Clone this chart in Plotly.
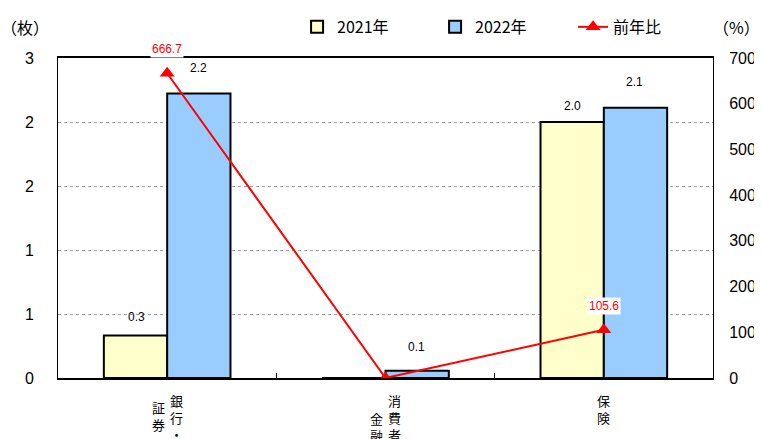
import plotly.graph_objects as go

categories = ["銀行・証券", "消費者金融", "保険"]
# vertical label columns (right column first, then left column)
category_columns = [["銀行・", "証券"], ["消費者", "金融"], ["保険"]]
values_2021 = [0.333, 0.0, 2.0]
values_2022 = [2.222, 0.056, 2.111]
ratio = [666.7, 0.0, 105.6]
left_tickvals = [0, 0.5, 1.0, 1.5, 2.0, 2.5]
left_ticktext = ["0", "1", "1", "2", "2", "3"]
right_tickvals = [0, 100, 200, 300, 400, 500, 600, 700]

NUM_FONT = "Liberation Sans, Arial, Noto Sans CJK JP"
JP_FONT = "Noto Sans CJK JP, Liberation Sans"

fig = go.Figure()
fig.add_trace(go.Bar(
    x=categories, y=values_2021, name="2021年",
    marker=dict(color="#FFFFCC", line=dict(color="black", width=2)),
))
fig.add_trace(go.Bar(
    x=categories, y=values_2022, name="2022年",
    marker=dict(color="#99CCFF", line=dict(color="black", width=2)),
))
fig.add_trace(go.Scatter(
    x=categories, y=ratio, name="前年比", yaxis="y2", mode="lines+markers",
    line=dict(color="#FF0000", width=2),
    marker=dict(symbol="triangle-up", size=13, color="#FF0000"),
))

annotations = []
# bar value labels
for ti, vals in enumerate([values_2021, values_2022]):
    shifts = [9, 0, 7] if ti == 0 else [17, 15, 17]
    for i, v in enumerate(vals):
        if v <= 0:
            continue
        annotations.append(dict(
            x=categories[i], y=v, xref="x", yref="y", text=f"{v:.1f}",
            showarrow=False, yanchor="bottom", xshift=(-31 if ti == 0 else 31),
            yshift=shifts[i], font=dict(size=12, color="black", family=NUM_FONT),
        ))
# ratio labels
for i, r in enumerate(ratio):
    if r <= 0:
        continue
    annotations.append(dict(
        x=categories[i], y=r, xref="x", yref="y2", text=f"{r:.1f}",
        showarrow=False, yanchor="bottom", yshift=15,
        bgcolor="white", font=dict(size=12, color="#FF0000", family=NUM_FONT),
    ))
# vertical category labels (one character per annotation, stacked)
for i, cols in enumerate(category_columns):
    n = len(cols)
    for j, col in enumerate(cols):
        xs = 0 if n == 1 else (9 if j == 0 else -9)
        start = -22 if j == 0 else (-29 if i == 0 else -40)
        for k, ch in enumerate(col):
            annotations.append(dict(
                x=categories[i], y=0, xref="x", yref="paper", text=ch,
                showarrow=False, yanchor="middle", xshift=xs, yshift=start - 17 * k,
                font=dict(size=13, color="black", family=JP_FONT),
            ))
annotations.append(dict(x=0, y=1, xref="paper", yref="paper", xanchor="left", yanchor="middle",
                        xshift=-59, yshift=31, text="（枚）", showarrow=False,
                        font=dict(size=16, color="black", family=JP_FONT)))
annotations.append(dict(x=1, y=1, xref="paper", yref="paper", xanchor="right", yanchor="middle",
                        xshift=49, yshift=31, text="（%）", showarrow=False,
                        font=dict(size=16, color="black", family=JP_FONT)))

# the page places the figure 8px from the top-left corner of the window
fig.update_layout(
    width=754, height=431,
    margin=dict(l=50, r=49, t=50, b=61, autoexpand=False),
    paper_bgcolor="white", plot_bgcolor="white",
    barmode="group", bargap=0.42, bargroupgap=0,
    font=dict(family=NUM_FONT, size=16, color="black"),
    showlegend=True,
    legend=dict(orientation="h", x=0.365, y=1.097, xanchor="left", yanchor="middle",
                font=dict(size=16, family=JP_FONT), bgcolor="rgba(0,0,0,0)",
                entrywidth=93, entrywidthmode="pixels", traceorder="normal"),
    xaxis=dict(type="category", showticklabels=False, ticks="inside", ticklen=5,
               tickson="boundaries", tickcolor="black", showline=True, linecolor="black",
               linewidth=1.5, mirror=True, showgrid=False, range=[-0.5, 2.5],
               automargin=False),
    yaxis=dict(range=[0, 2.5], tickvals=left_tickvals, ticktext=left_ticktext,
               showline=True, linecolor="black", linewidth=1, mirror=False,
               showgrid=True, gridcolor="#A0A0A0", griddash="dot", gridwidth=1,
               zeroline=False, ticks="", ticklabelstandoff=20, automargin=False,
               tickfont=dict(size=16, family=NUM_FONT)),
    yaxis2=dict(range=[0, 700], tickvals=right_tickvals, overlaying="y", side="right",
                showline=True, linecolor="black", linewidth=1, showgrid=False,
                zeroline=False, ticks="", ticklabelstandoff=12, automargin=False,
                tickfont=dict(size=16, family=NUM_FONT)),
    annotations=annotations,
)

fig.write_html("out.html")
